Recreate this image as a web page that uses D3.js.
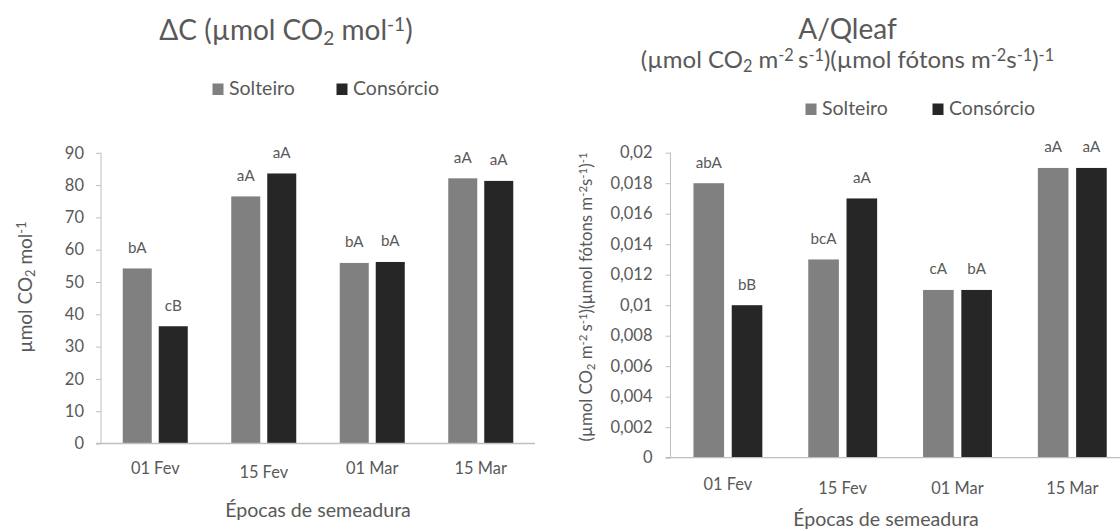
<!DOCTYPE html>
<html><head><meta charset="utf-8">
<script src="https://cdn.jsdelivr.net/npm/d3@7"></script>
<style>
body{margin:0;background:#fff;overflow:hidden;}
svg{display:block;font-family:Lato, "Open Sans", sans-serif;}
</style></head>
<body><svg id="c" width="1120" height="531"></svg>
<script>
const categories = ["01 Fev", "15 Fev", "01 Mar", "15 Mar"];
const seriesNames = ["Solteiro", "Consórcio"];
const seriesColors = ["#808080", "#262626"];

const deltaCSolteiro = [54.2, 76.5, 55.9, 82.1];
const deltaCConsorcio = [36.3, 83.6, 56.2, 81.3];
const deltaCLabelsSolteiro = ["bA", "aA", "bA", "aA"];
const deltaCLabelsConsorcio = ["cB", "aA", "bA", "aA"];
const deltaCTicks = [0, 10, 20, 30, 40, 50, 60, 70, 80, 90];

const aqSolteiro = [0.018, 0.013, 0.011, 0.019];
const aqConsorcio = [0.010, 0.017, 0.011, 0.019];
const aqLabelsSolteiro = ["abA", "bcA", "cA", "aA"];
const aqLabelsConsorcio = ["bB", "aA", "bA", "aA"];
const aqTicks = [0, 0.002, 0.004, 0.006, 0.008, 0.01, 0.012, 0.014, 0.016, 0.018, 0.02];

const xLabelOffsets = {left: [0, 4, 0, 0], right: [0, 4, 4, 4]};

const svg = d3.select("#c");
const TXT = "#595959";
const AX = "#bfbfbf";

function fmt(v){ return String(+v.toFixed(4)).replace(".", ","); }

function richText(g, parts, attrs){
  const t = g.append("text");
  Object.entries(attrs).forEach(([k,v]) => t.attr(k, v));
  parts.forEach(p => {
    const s = t.append("tspan").text(p.t);
    if (p.sub) s.attr("font-size", "0.68em").attr("baseline-shift", "-25%");
    if (p.sup) s.attr("font-size", "0.68em").attr("baseline-shift", "45%");
  });
  return t;
}

function drawChart(o){
  const g = svg.append("g");
  const y = d3.scaleLinear().domain([o.ticks[0], o.ticks[o.ticks.length-1]]).range([o.y0, o.y1]);
  const x = d3.scaleBand().domain(categories).range([o.x0, o.x1]).padding(0);
  const xs = d3.scaleBand().domain(seriesNames).range([0, x.bandwidth()])
    .paddingInner(o.pi).paddingOuter(o.po);

  // y axis
  const yAxis = d3.axisLeft(y).tickValues(o.ticks).tickFormat(fmt).tickSize(o.tick).tickPadding(o.tpad);
  const ga = g.append("g").attr("transform", `translate(${o.x0},0)`).call(yAxis);
  ga.select(".domain").attr("stroke", AX).attr("d", `M0,${o.y0}V${o.y1}`);
  ga.selectAll(".tick line").attr("stroke", AX);
  ga.selectAll(".tick text").attr("fill", TXT).attr("font-size", 16.5).attr("font-family", "Lato");

  // bars
  const series = [o.s1, o.s2];
  const labels = [o.l1, o.l2];
  series.forEach((vals, si) => {
    g.selectAll(null).data(vals).join("rect")
      .attr("x", (d,i) => x(categories[i]) + xs(seriesNames[si]))
      .attr("width", xs.bandwidth())
      .attr("y", d => y(d))
      .attr("height", d => y(0) - y(d))
      .attr("fill", seriesColors[si]);
    g.selectAll(null).data(vals).join("text")
      .attr("x", (d,i) => x(categories[i]) + xs(seriesNames[si]) + xs.bandwidth()/2)
      .attr("y", d => y(d) - 15.5)
      .attr("text-anchor", "middle")
      .attr("fill", TXT).attr("font-size", 15.2)
      .text((d,i) => labels[si][i]);
  });

  // x axis baseline
  const xAxis = d3.axisBottom(x).tickSize(0).tickPadding(0);
  const gx = g.append("g").attr("transform", `translate(0,${o.y0})`).call(xAxis);
  gx.select(".domain").attr("stroke", AX).attr("stroke-width", 1.3).attr("d", `M${o.x0 - o.tick},0H${o.x1}`);
  gx.selectAll(".tick text").attr("fill", TXT).attr("font-size", 16.4).attr("font-family", "Lato")
    .attr("dy", null).attr("y", (d,i) => o.xlabY - o.y0 + o.xoff[i]);

  // x title
  g.append("text").attr("x", o.xtX).attr("y", o.xtY).attr("text-anchor", "middle")
    .attr("fill", TXT).attr("font-size", 19.6).text("Épocas de semeadura");

  // y title
  richText(g, o.ytitle, {transform: `translate(${o.ytX},${o.ytY}) rotate(-90)`, "text-anchor": "middle",
    fill: TXT, "font-size": o.ytSize});

  // legend
  seriesNames.forEach((n, i) => {
    g.append("rect").attr("x", o.legX[i]).attr("y", o.legY - 11.5).attr("width", 11).attr("height", 11.5)
      .attr("fill", seriesColors[i]);
    g.append("text").attr("x", o.legX[i] + 16.5).attr("y", o.legY).attr("fill", TXT)
      .attr("font-size", 19.5).text(n);
  });

  // titles
  o.titles.forEach(tt => richText(g, tt.parts, {x: tt.x, y: tt.y, "text-anchor": "middle", fill: TXT, "font-size": tt.size}));
}

drawChart({
  ticks: deltaCTicks, y0: 443.5, y1: 152.8, x0: 101, x1: 535, pi: 0.194, po: 0.604, tick: 5, tpad: 12,
  s1: deltaCSolteiro, s2: deltaCConsorcio, l1: deltaCLabelsSolteiro, l2: deltaCLabelsConsorcio,
  xlabY: 474, xoff: xLabelOffsets.left, xtX: 318, xtY: 517,
  ytitle: [{t:"µmol CO"},{t:"2",sub:true},{t:" mol"},{t:"-1",sup:true}], ytX: 32, ytY: 287, ytSize: 19,
  legX: [212.5, 336.5], legY: 95,
  titles: [{x: 286, y: 40, size: 28, parts: [{t:"ΔC (µmol CO"},{t:"2",sub:true},{t:" mol"},{t:"-1",sup:true},{t:")"}]}]
});

drawChart({
  ticks: aqTicks, y0: 457.7, y1: 152.7, x0: 670.5, x1: 1129.7, pi: 0.2, po: 0.6, tick: 5, tpad: 13,
  s1: aqSolteiro, s2: aqConsorcio, l1: aqLabelsSolteiro, l2: aqLabelsConsorcio,
  xlabY: 490, xoff: xLabelOffsets.right, xtX: 886, xtY: 525.5,
  ytitle: [{t:"(µmol CO"},{t:"2",sub:true},{t:" m"},{t:"-2 ",sup:true},{t:"s"},{t:"-1",sup:true},{t:")(µmol fótons m"},{t:"-2",sup:true},{t:"s"},{t:"-1",sup:true},{t:")"},{t:"-1",sup:true}],
  ytX: 592, ytY: 297, ytSize: 16.8,
  legX: [805.5, 932.5], legY: 115,
  titles: [
    {x: 847.5, y: 39, size: 28, parts: [{t:"A/Qleaf"}]},
    {x: 847.5, y: 68, size: 24, parts: [{t:"(µmol CO"},{t:"2",sub:true},{t:" m"},{t:"-2 ",sup:true},{t:"s"},{t:"-1",sup:true},{t:")(µmol fótons m"},{t:"-2",sup:true},{t:"s"},{t:"-1",sup:true},{t:")"},{t:"-1",sup:true}]}
  ]
});
</script></body></html>
